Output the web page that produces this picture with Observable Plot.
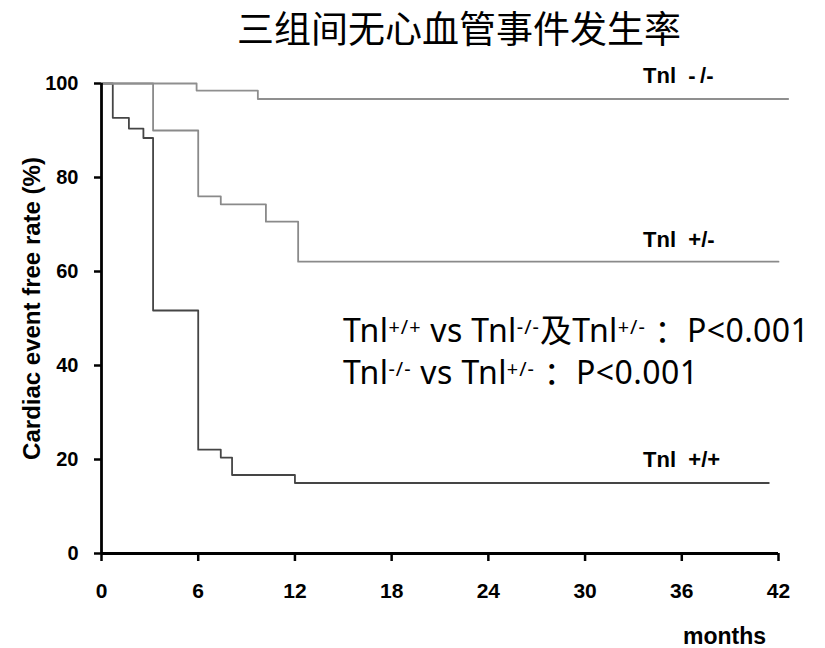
<!DOCTYPE html>
<html>
<head>
<meta charset="utf-8">
<script src="https://cdn.jsdelivr.net/npm/d3@7"></script>
<script src="https://cdn.jsdelivr.net/npm/@observablehq/plot@0.6"></script>
<style>
  body { margin: 0; background: #fff; }
  #wrap { position: relative; width: 825px; height: 648px; overflow: hidden; background: #fff; }
  #title { position: absolute; left: 237px; top: 0; height: 62px; line-height: 54px;
           font-family: "Noto Sans CJK SC", sans-serif; font-size: 37px; font-weight: 400;
           color: #000; white-space: nowrap; }
  #chart { position: absolute; left: 0; top: 62px; }
  #note { position: absolute; left: 343px; top: 311px; font-family: "Noto Sans", "Noto Sans CJK SC", sans-serif;
          font-size: 32px; line-height: 37px; color: #000; white-space: nowrap; letter-spacing: 0.4px; }
  #note .s { font-size: 0.62em; position: relative; top: -0.42em; letter-spacing: 1px; }
</style>
</head>
<body>
<div id="wrap">
  <div id="title">三组间无心血管事件发生率</div>
  <div id="chart"></div>
  <div id="note">
    <div>Tnl<span class="s">+/+</span> vs Tnl<span class="s">-/-</span>及Tnl<span class="s">+/-</span> ：P&lt;0.001</div>
    <div>Tnl<span class="s">-/-</span> vs Tnl<span class="s">+/-</span> ：P&lt;0.001</div>
  </div>
</div>
<script>
// Group names
const groups = ["Tnl +/+", "Tnl +/-", "Tnl -/-"];

// Kaplan–Meier step points (months, cardiac event free rate %)
const monthsPP = [0, 0.7, 1.7, 2.6, 3.2, 6.0, 7.4, 8.1, 12.0, 41.4];
const ratePP   = [100, 92.7, 90.4, 88.4, 51.7, 22.1, 20.4, 16.7, 15.0, 15.0];

const monthsPM = [0, 3.2, 6.0, 7.4, 10.2, 12.2, 42.0];
const ratePM   = [100, 90.0, 76.0, 74.3, 70.6, 62.1, 62.1];

const monthsMM = [0, 5.9, 9.7, 42.6];
const rateMM   = [100, 98.5, 96.7, 96.7];

// Axis ticks
const xTicks = [0, 6, 12, 18, 24, 30, 36, 42];
const yTicks = [0, 20, 40, 60, 80, 100];

// Curve labels and their anchor (months, rate)
const labelText  = ["Tnl\u00a0\u00a0-\u2009/-", "Tnl\u00a0\u00a0+/-", "Tnl\u00a0\u00a0+/+"];
const labelMonth = [33.6, 33.6, 33.6];
const labelRate  = [101.5, 66.8, 19.8];

const yTitle = "Cardiac event free rate (%)";
const xTitle = "months";
const xTitleMonth = 38.65;

// Build table
const rows = [];
[[groups[0], monthsPP, ratePP], [groups[1], monthsPM, ratePM], [groups[2], monthsMM, rateMM]]
  .forEach(([g, ms, rs]) => ms.forEach((m, i) => rows.push({group: g, month: m, rate: rs[i]})));
const labels = labelText.map((t, i) => ({text: t, month: labelMonth[i], rate: labelRate[i]}));

const font = "'Liberation Sans', Arial, sans-serif";

const chart = Plot.plot({
  width: 825,
  height: 586,
  marginLeft: 101,
  marginRight: 47,
  marginTop: 21,
  marginBottom: 95,
  style: {fontFamily: font, background: "#fff", color: "#000", overflow: "visible"},
  x: {domain: [0, 42]},
  y: {domain: [0, 100]},
  color: {domain: groups, range: ["#454545", "#8a8a8a", "#8f8f8f"]},
  marks: [
    Plot.axisX({ticks: xTicks, tickSize: 8, tickPadding: 22, fontSize: 21, fontWeight: "bold",
                strokeWidth: 2.5, label: null}),
    Plot.axisY({ticks: yTicks, tickSize: 7, tickPadding: 16, fontSize: 20, fontWeight: "bold",
                strokeWidth: 2.5, label: null}),
    Plot.line(rows, {x: "month", y: "rate", z: "group", stroke: "group", curve: "step-after",
                     strokeWidth: 1.8, clip: false}),
    Plot.ruleY([0], {strokeWidth: 2.8}),
    Plot.ruleX([0], {strokeWidth: 2.8}),
    Plot.text(labels, {x: "month", y: "rate", text: "text", textAnchor: "start",
                       fontSize: 22, fontWeight: "bold"}),
    Plot.text([yTitle], {text: d => d, frameAnchor: "left", textAnchor: "middle", rotate: -90,
                         dx: -69, dy: -10, fontSize: 24, fontWeight: "bold"}),
    Plot.text([{t: xTitle, m: xTitleMonth}], {x: "m", text: "t", frameAnchor: "bottom", dy: 90,
                                              fontSize: 23, fontWeight: "bold"})
  ]
});
document.getElementById("chart").appendChild(chart);
</script>
</body>
</html>
